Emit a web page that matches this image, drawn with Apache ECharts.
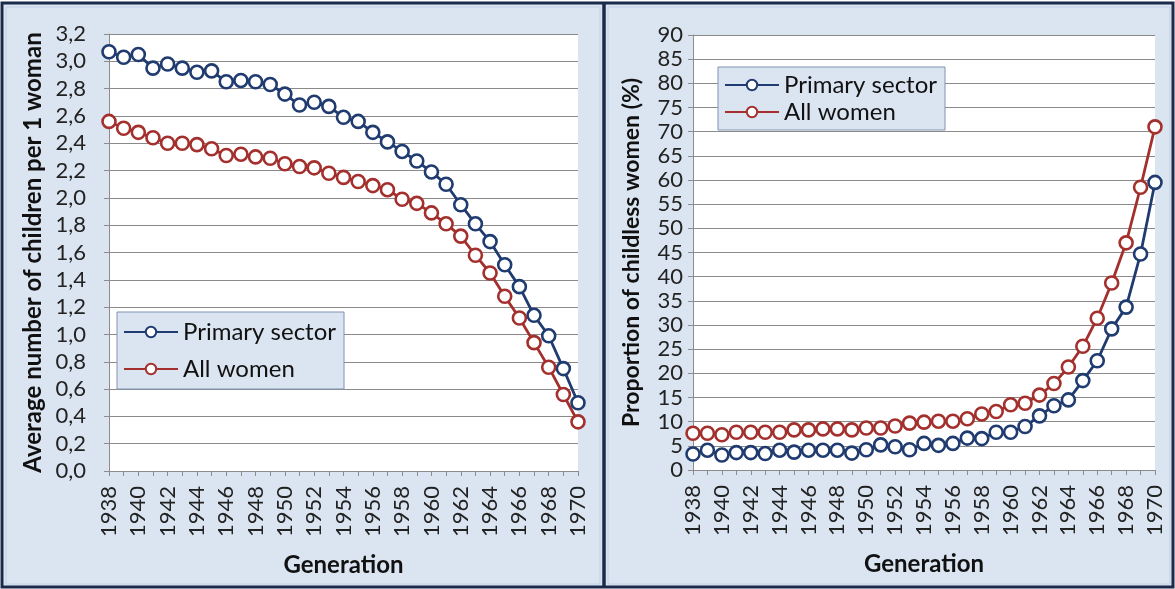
<!DOCTYPE html>
<html>
<head>
<meta charset="utf-8">
<script src="https://cdn.jsdelivr.net/npm/echarts@6/dist/echarts.min.js"></script>
<style>
  html, body { margin: 0; padding: 0; background: #fff; }
  #chart { width: 1175px; height: 589px; }
</style>
</head>
<body>
<div id="chart"></div>
<script>
// generations 1938..1970
const years = ['1938','1939','1940','1941','1942','1943','1944','1945','1946','1947','1948',
  '1949','1950','1951','1952','1953','1954','1955','1956','1957','1958','1959','1960',
  '1961','1962','1963','1964','1965','1966','1967','1968','1969','1970']

// average number of children per 1 woman
const childrenPrimary = [3.07, 3.03, 3.05, 2.95, 2.98, 2.95, 2.92, 2.93, 2.85, 2.86, 2.85,
  2.83, 2.76, 2.68, 2.70, 2.67, 2.59, 2.56, 2.48, 2.41, 2.34, 2.27, 2.19,
  2.10, 1.95, 1.81, 1.68, 1.51, 1.35, 1.14, 0.99, 0.75, 0.50]
const childrenAll = [2.56, 2.51, 2.48, 2.44, 2.40, 2.40, 2.39, 2.36, 2.31, 2.32, 2.30,
  2.29, 2.25, 2.23, 2.22, 2.18, 2.15, 2.12, 2.09, 2.06, 1.99, 1.96, 1.89,
  1.81, 1.72, 1.58, 1.45, 1.28, 1.12, 0.94, 0.76, 0.56, 0.36]

// proportion of childless women (%)
const childlessPrimary = [3.3, 4.1, 3.1, 3.6, 3.6, 3.4, 4.1, 3.7, 4.1, 4.1, 4.1,
  3.5, 4.2, 5.2, 4.8, 4.2, 5.5, 5.1, 5.5, 6.6, 6.5, 7.8, 7.8,
  9.0, 11.2, 13.3, 14.5, 18.5, 22.6, 29.2, 33.7, 44.7, 59.5]
const childlessAll = [7.6, 7.6, 7.3, 7.8, 7.8, 7.8, 7.8, 8.3, 8.3, 8.5, 8.5,
  8.3, 8.7, 8.7, 9.1, 9.7, 9.9, 10.1, 10.1, 10.6, 11.6, 12.1, 13.5,
  13.8, 15.5, 17.9, 21.3, 25.6, 31.4, 38.7, 47.0, 58.5, 71.0]

const BLUE = '#1f3b70'
const RED = '#a3302d'
const FONT = 'Lato'
const panelBg = '#dbe5f1'

function xAxisFor(gridIndex) {
  return {
    type: 'category',
    gridIndex: gridIndex,
    data: years,
    boundaryGap: false,
    name: 'Generation',
    nameLocation: 'middle',
    nameGap: 82,
    nameTextStyle: { fontFamily: FONT, fontWeight: 'bold', fontSize: 24, color: '#111' },
    axisLine: { lineStyle: { color: '#8c8c8c', width: 1 } },
    axisTick: { show: true, interval: 0, length: 5, lineStyle: { color: '#8c8c8c' } },
    axisLabel: { interval: 1, rotate: 90, fontFamily: FONT, fontSize: 22, color: '#222', margin: 15 },
    splitLine: { show: false }
  }
}

function yAxisFor(gridIndex, max, step, title, fmt, titleSize, labelGap) {
  return {
    type: 'value',
    gridIndex: gridIndex,
    min: 0,
    max: max,
    interval: step,
    name: title,
    nameLocation: 'middle',
    nameRotate: 90,
    nameTextStyle: { fontFamily: FONT, fontWeight: 'bold', fontSize: titleSize, color: '#111' },
    axisLine: { show: true, lineStyle: { color: '#8c8c8c' } },
    axisTick: { show: true, length: 5, lineStyle: { color: '#8c8c8c' } },
    axisLabel: { fontFamily: FONT, fontSize: 22, color: '#222', margin: labelGap, formatter: fmt },
    splitLine: { show: true, lineStyle: { color: '#8a8a8a', width: 1 } }
  }
}

function lineSeries(name, data, color, idx) {
  return {
    name: name,
    type: 'line',
    xAxisIndex: idx,
    yAxisIndex: idx,
    data: data,
    symbol: 'circle',
    symbolSize: 13,
    showAllSymbol: true,
    lineStyle: { color: color, width: 2.8 },
    itemStyle: { color: '#ffffff', borderColor: color, borderWidth: 2.6 },
    emphasis: { disabled: true },
    z: 3
  }
}

function legendAt(left, top, gap, padV) {
  return {
    data: ['Primary sector', 'All women'],
    orient: 'vertical',
    left: left,
    top: top,
    itemWidth: 54,
    itemHeight: 13,
    itemGap: gap,
    padding: [padV, 8, padV, 6],
    backgroundColor: panelBg,
    borderColor: '#7f93b2',
    borderWidth: 1,
    borderRadius: 0,
    selectedMode: false,
    textStyle: { fontFamily: FONT, fontSize: 24, color: '#111', padding: [0, 0, 0, 0] }
  }
}

const chart = echarts.init(document.getElementById('chart'), null, { renderer: 'canvas' })

chart.setOption({
  animation: false,
  backgroundColor: '#ffffff',
  graphic: [
    // outer frame and panel backgrounds
    { type: 'rect', shape: { x: 2, y: 3, width: 1171, height: 584 },
      style: { fill: panelBg, stroke: '#1b2a4a', lineWidth: 3 }, z: -10 },
    { type: 'rect', shape: { x: 6, y: 7, width: 594, height: 577 },
      style: { fill: 'none', stroke: '#c3d0e3', lineWidth: 1 }, z: -9 },
    { type: 'rect', shape: { x: 608, y: 7, width: 562, height: 577 },
      style: { fill: 'none', stroke: '#c3d0e3', lineWidth: 1 }, z: -9 },
    { type: 'line', shape: { x1: 604, y1: 3, x2: 604, y2: 587 },
      style: { stroke: '#1b2a4a', lineWidth: 3.5 }, z: -8 }
  ],
  grid: [
    { left: 109, top: 34, width: 469, height: 437, show: true, backgroundColor: '#ffffff', borderWidth: 0 },
    { left: 693, top: 35, width: 462, height: 435, show: true, backgroundColor: '#ffffff', borderWidth: 0 }
  ],
  xAxis: [xAxisFor(0), xAxisFor(1)],
  yAxis: [
    Object.assign(yAxisFor(0, 3.2, 0.2, 'Average number of children per 1 woman',
      v => v.toFixed(1).replace('.', ','), 24, 23), { nameGap: 64 }),
    Object.assign(yAxisFor(1, 90, 5, 'Proportion of childless women (%)',
      v => String(v), 23, 10), { nameGap: 50 })
  ],
  legend: [legendAt(117, 312, 13, 8), legendAt(718, 67, 3, 6)],
  series: [
    lineSeries('Primary sector', childrenPrimary, BLUE, 0),
    lineSeries('All women', childrenAll, RED, 0),
    lineSeries('Primary sector', childlessPrimary, BLUE, 1),
    lineSeries('All women', childlessAll, RED, 1)
  ]
})
</script>
</body>
</html>
